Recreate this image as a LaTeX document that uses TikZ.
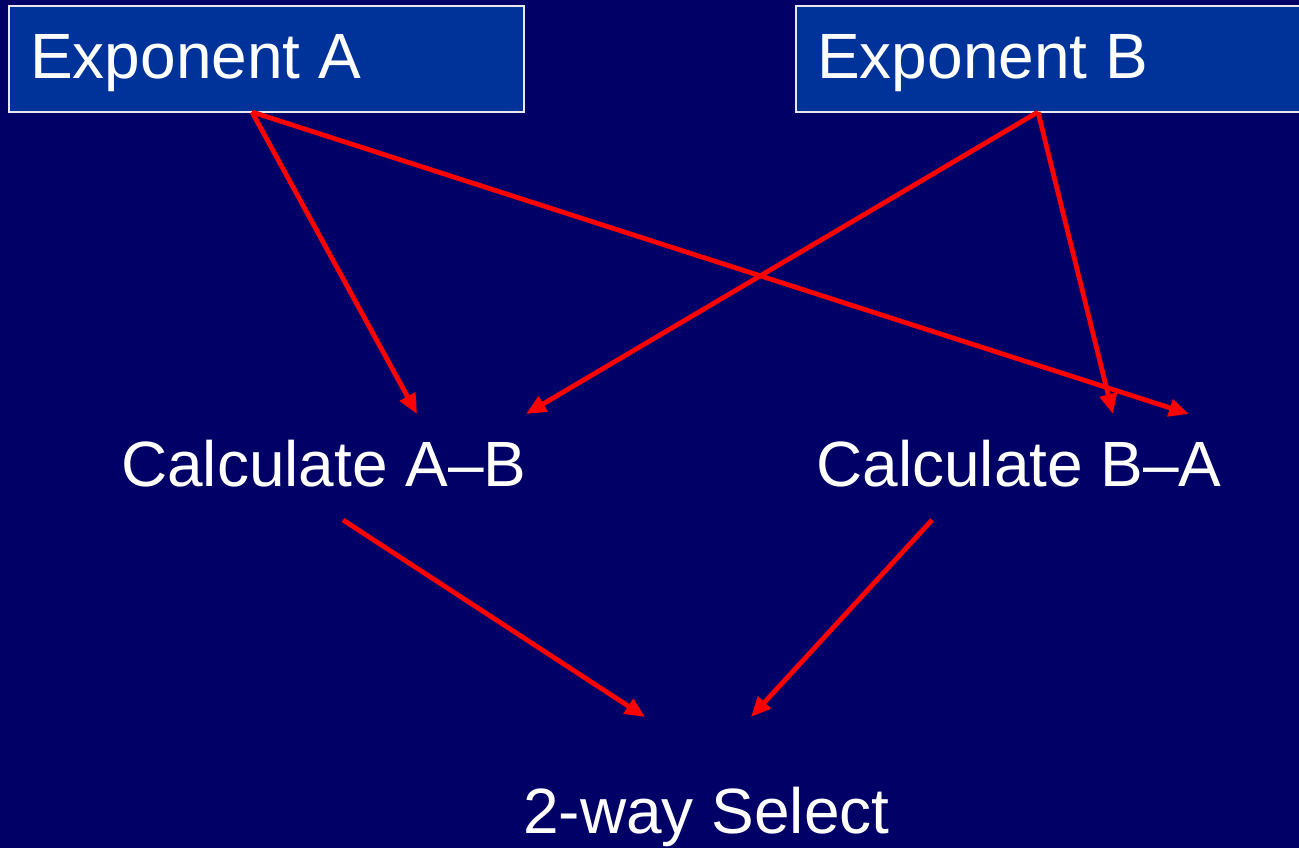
\documentclass[tikz,border=0pt]{standalone}
\usepackage{fontspec}
\setmainfont{Liberation Sans}
\usetikzlibrary{arrows.meta}
\definecolor{bgnavy}{HTML}{000066}
\definecolor{boxblue}{HTML}{003399}
\definecolor{boxedge}{HTML}{E8E8F0}
\definecolor{arrowred}{HTML}{FF0000}
\begin{document}
\begin{tikzpicture}[x=1pt,y=-1pt,
  bigtext/.style={text=white,font=\fontsize{64}{70}\selectfont,inner sep=0pt,anchor=base west},
  expbox/.style={draw=boxedge,line width=1.5pt,fill=boxblue},
  redarrow/.style={draw=arrowred,line width=4.8pt,-{Triangle[length=20pt,width=17pt]}}]
\useasboundingbox (0,0) rectangle (1299,848);
\fill[bgnavy] (0,0) rectangle (1299,848);
% boxes
\draw[expbox] (9,6) rectangle (524,112);
\draw[expbox] (796,6) rectangle (1310,112);
\node[bigtext] (expA) at (30,79) {Exponent A};
\node[bigtext] (expB) at (817,79) {Exponent B};
\node[bigtext] (calcAB) at (121,486) {Calculate A–B};
\node[bigtext] (calcBA) at (816,486) {Calculate B–A};
\node[bigtext] (sel) at (523,833) {2-way Select};
% connector points
\coordinate (aout) at (252,112);
\coordinate (bout) at (1038,112);
\coordinate (abinL) at (417,414);
\coordinate (abinR) at (526,414);
\coordinate (bainL) at (1113,414);
\coordinate (bainR) at (1189,414);
\coordinate (about) at (343,520);
\coordinate (baout) at (932,520);
\coordinate (selinL) at (645,717);
\coordinate (selinR) at (751,717);
% arrows
\draw[redarrow] (aout) -- (abinL);
\draw[redarrow] (aout) -- (bainR);
\draw[redarrow] (bout) -- (abinR);
\draw[redarrow] (bout) -- (bainL);
\draw[redarrow] (about) -- (selinL);
\draw[redarrow] (baout) -- (selinR);
\end{tikzpicture}
\end{document}
